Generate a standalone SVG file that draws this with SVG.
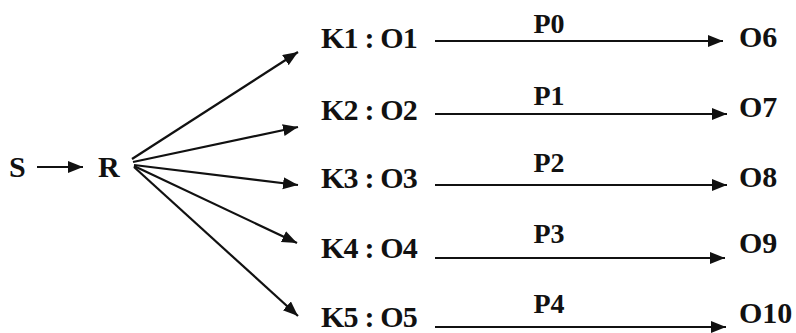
<svg xmlns="http://www.w3.org/2000/svg" width="796" height="333" viewBox="0 0 796 333">
<style>
text{font-family:"Liberation Serif","Times New Roman",serif;font-weight:bold;font-size:30px;fill:#111}
.k{letter-spacing:-0.8px}
.p{font-size:28px;text-anchor:middle}
line{stroke:#111;stroke-width:2.2}
</style>
<defs>
<marker id="ah" markerUnits="userSpaceOnUse" markerWidth="18" markerHeight="14" refX="15" refY="6" orient="auto">
<path d="M0,0 L15,6 L0,12 z" fill="#111"/>
</marker>
</defs>
<rect width="796" height="333" fill="#fff"/>
<g id="connectors">
<line x1="37" y1="167" x2="83" y2="167" marker-end="url(#ah)"/>
<line x1="132" y1="159" x2="298" y2="52" marker-end="url(#ah)"/>
<line x1="133" y1="162" x2="298" y2="127" marker-end="url(#ah)"/>
<line x1="134" y1="165" x2="298" y2="185" marker-end="url(#ah)"/>
<line x1="134" y1="166" x2="297" y2="243" marker-end="url(#ah)"/>
<line x1="134" y1="167" x2="298" y2="316" marker-end="url(#ah)"/>
<line x1="435" y1="41" x2="723" y2="41" marker-end="url(#ah)"/>
<line x1="435" y1="114" x2="727" y2="114" marker-end="url(#ah)"/>
<line x1="435" y1="185" x2="727" y2="185" marker-end="url(#ah)"/>
<line x1="435" y1="258" x2="725" y2="258" marker-end="url(#ah)"/>
<line x1="435" y1="327" x2="726" y2="327" marker-end="url(#ah)"/>
<text class="p" x="549" y="33">P0</text>
<text class="p" x="549" y="105">P1</text>
<text class="p" x="549" y="172">P2</text>
<text class="p" x="549" y="243">P3</text>
<text class="p" x="549" y="313">P4</text>
</g>
<g id="S"><text x="9" y="177">S</text></g>
<g id="R"><text x="98" y="177">R</text></g>
<g id="K1"><text class="k" x="321" y="48">K1 : O1</text></g>
<g id="K2"><text class="k" x="321" y="120">K2 : O2</text></g>
<g id="K3"><text class="k" x="321" y="188">K3 : O3</text></g>
<g id="K4"><text class="k" x="321" y="258">K4 : O4</text></g>
<g id="K5"><text class="k" x="321" y="327">K5 : O5</text></g>
<g id="O6"><text x="739" y="47">O6</text></g>
<g id="O7"><text x="739" y="117">O7</text></g>
<g id="O8"><text x="739" y="187">O8</text></g>
<g id="O9"><text x="739" y="253">O9</text></g>
<g id="O10"><text x="739" y="323">O10</text></g>
</svg>
